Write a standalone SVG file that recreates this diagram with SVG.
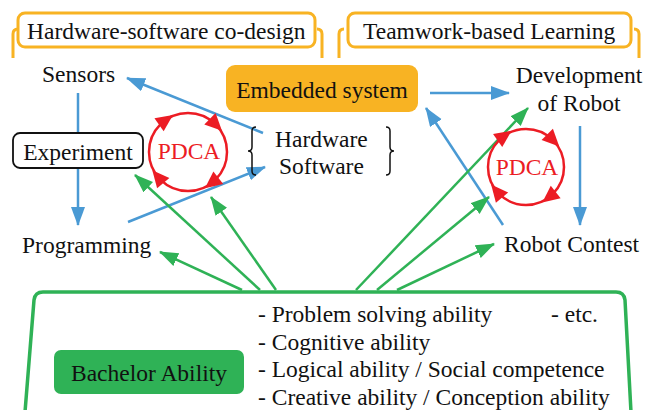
<svg xmlns="http://www.w3.org/2000/svg" xmlns:xlink="http://www.w3.org/1999/xlink" width="646" height="410" viewBox="0 0 646 410">
  <style>
    text { font-size: 23.5px; fill: #111; }
    .bracket { fill: none; stroke: #F8B323; stroke-width: 3; }
    .blue { fill: none; stroke: #4A9AD4; stroke-width: 2.5; marker-end: url(#ahBlue); }
    .green { fill: none; stroke: #2FB256; stroke-width: 2.5; marker-end: url(#ahGreen); }
    .brace { fill: none; stroke: #111; stroke-width: 1.5; }
    .pdca { fill: none; stroke: #EC1C24; stroke-width: 2.5; }
    .pdca-tri { fill: #EC1C24; }
    .pdca-txt { fill: #EC1C24; text-anchor: middle; }
  </style>
  <defs>
    <marker id="ahBlue" markerUnits="userSpaceOnUse" markerWidth="20" markerHeight="16" refX="18" refY="7" orient="auto">
      <path d="M0,0 L19,7 L0,14 Z" fill="#4A9AD4"/>
    </marker>
    <marker id="ahGreen" markerUnits="userSpaceOnUse" markerWidth="20" markerHeight="16" refX="18" refY="7" orient="auto">
      <path d="M0,0 L19,7 L0,14 Z" fill="#2FB256"/>
    </marker>
    <path id="tri" d="M9,0 L-8,-8 L-8,8 Z"/>
  </defs>

  <g font-family="'Times New Roman', 'Liberation Serif', Tinos, 'Nimbus Roman', 'DejaVu Serif', serif">
  <!-- section headers -->
  <g id="hw-sw-codesign">
    <path class="bracket" d="M13,58 V34 Q13,29 18,29"/>
    <path class="bracket" d="M322,58 V34 Q322,29 317,29"/>
    <rect class="bracket" x="18" y="13" width="297" height="34" rx="7" fill="#fff"/>
    <text x="27" y="39">Hardware-software co-design</text>
  </g>
  <g id="teamwork-learning">
    <path class="bracket" d="M339,58 V34 Q339,29 344,29"/>
    <path class="bracket" d="M639,58 V34 Q639,29 634,29"/>
    <rect class="bracket" x="348" y="13" width="283" height="34" rx="7" fill="#fff"/>
    <text x="363" y="39">Teamwork-based Learning</text>
  </g>

  <!-- connectors -->
  <g id="connectors">
    <line class="blue" x1="263" y1="133" x2="127" y2="78"/>
    <line class="blue" x1="128" y1="222" x2="265" y2="167"/>
    <line class="blue" x1="78" y1="93" x2="78" y2="225"/>
    <line class="blue" x1="430" y1="93" x2="509" y2="93"/>
    <line class="blue" x1="503" y1="225" x2="426" y2="108"/>
    <line class="blue" x1="580" y1="126" x2="580" y2="225"/>

    <line class="green" x1="242" y1="290" x2="160" y2="252"/>
    <line class="green" x1="260" y1="290" x2="135" y2="175"/>
    <line class="green" x1="276" y1="290" x2="211" y2="197"/>
    <line class="green" x1="356" y1="290" x2="528" y2="108"/>
    <line class="green" x1="377" y1="290" x2="489" y2="197"/>
    <line class="green" x1="397" y1="290" x2="494" y2="244"/>
  </g>

  <!-- nodes -->
  <g id="sensors">
    <text x="42" y="82">Sensors</text>
  </g>
  <g id="embedded-system">
    <rect x="226" y="65" width="192" height="47" rx="9" fill="#F8B323"/>
    <text x="322" y="98" text-anchor="middle">Embedded system</text>
  </g>
  <g id="development-of-robot">
    <text x="579" y="83" text-anchor="middle">Development</text>
    <text x="579" y="111" text-anchor="middle">of Robot</text>
  </g>
  <g id="experiment">
    <rect x="13" y="133" width="130" height="35" rx="7" fill="#fff" stroke="#111" stroke-width="1.8"/>
    <text x="78" y="160" text-anchor="middle">Experiment</text>
  </g>
  <g id="pdca-left">
    <circle class="pdca" cx="188" cy="152" r="39"/>
    <use xlink:href="#tri" class="pdca-tri" transform="translate(165.6,120.1) rotate(-35)"/>
    <use xlink:href="#tri" class="pdca-tri" transform="translate(215.6,124.4) rotate(45)"/>
    <use xlink:href="#tri" class="pdca-tri" transform="translate(212,182.7) rotate(142)"/>
    <use xlink:href="#tri" class="pdca-tri" transform="translate(158.1,177.1) rotate(230)"/>
    <text class="pdca-txt" x="189" y="159">PDCA</text>
  </g>
  <g id="hardware-software">
    <path class="brace" d="M256,127 Q252,127 252,131 V147 Q252,151 248,151 Q252,151 252,155 V171 Q252,175 256,175"/>
    <text x="275" y="147">Hardware</text>
    <text x="279" y="174">Software</text>
    <path class="brace" d="M386,127 Q390,127 390,131 V147 Q390,151 394,151 Q390,151 390,155 V171 Q390,175 386,175"/>
  </g>
  <g id="pdca-right">
    <circle class="pdca" cx="526" cy="167" r="38"/>
    <use xlink:href="#tri" class="pdca-tri" transform="translate(504.2,135.9) rotate(-35)"/>
    <use xlink:href="#tri" class="pdca-tri" transform="translate(552.9,140.1) rotate(45)"/>
    <use xlink:href="#tri" class="pdca-tri" transform="translate(549.4,196.9) rotate(142)"/>
    <use xlink:href="#tri" class="pdca-tri" transform="translate(496.9,191.4) rotate(230)"/>
    <text class="pdca-txt" x="527" y="175">PDCA</text>
  </g>
  <g id="programming">
    <text x="22" y="253">Programming</text>
  </g>
  <g id="robot-contest">
    <text x="504" y="252">Robot Contest</text>
  </g>

  <g id="bachelor-ability">
    <path d="M25,412 L34,300 Q35,292 43,292 L616,292 Q624,292 625,300 L631,412" fill="none" stroke="#2FB256" stroke-width="3.5"/>
    <rect x="54" y="350" width="190" height="44" rx="7" fill="#2FB256"/>
    <text x="149" y="381" text-anchor="middle">Bachelor Ability</text>
    <text x="258" y="322">- Problem solving ability</text>
    <text x="551" y="322">- etc.</text>
    <text x="258" y="350">- Cognitive ability</text>
    <text x="258" y="377">- Logical ability / Social competence</text>
    <text x="258" y="405">- Creative ability / Conception ability</text>
  </g>
  </g>
</svg>
